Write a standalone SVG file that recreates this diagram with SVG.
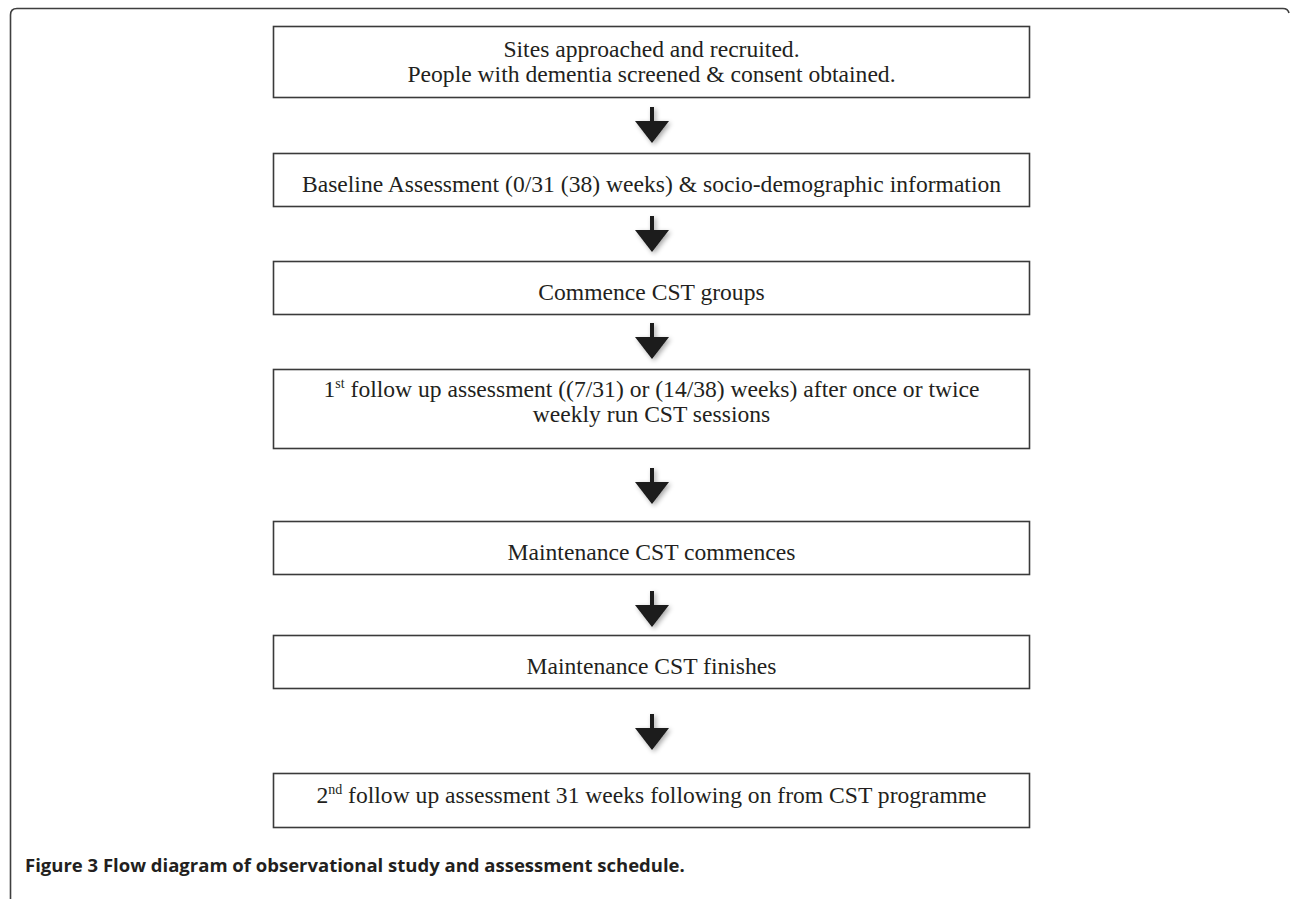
<svg xmlns="http://www.w3.org/2000/svg" width="1290" height="899" viewBox="0 0 1290 899">
<style>
.box{fill:#fff;stroke:#3a3a3a;stroke-width:1.6}
.t{font-family:"Liberation Serif","Times New Roman",serif;font-size:23.6px;fill:#231f20;text-anchor:middle}
.sup{font-size:14px}
.arrow{fill:#1a1a1a}
.cap{font-family:"Open Sans","Noto Sans",sans-serif;font-size:18.5px;font-weight:bold;fill:#231f20}
</style>
<defs>
<filter id="sh" x="-50%" y="-50%" width="200%" height="200%">
<feGaussianBlur in="SourceAlpha" stdDeviation="2.5"/>
<feOffset dx="2" dy="2" result="b"/>
<feComponentTransfer><feFuncA type="linear" slope="0.35"/></feComponentTransfer>
<feMerge><feMergeNode/><feMergeNode in="SourceGraphic"/></feMerge>
</filter>
<g id="arr">
<rect x="-2" y="0" width="4" height="15" class="arrow"/>
<polygon points="-17,14 17,14 0,36" class="arrow"/>
</g>
</defs>
<rect width="1290" height="899" fill="#fff"/>
<path d="M10.5,899 V15 Q10.5,8.5 17,8.5 H1283 Q1288,8.5 1289,13" fill="none" stroke="#3f3f3f" stroke-width="1.6"/>

<g id="connectors" filter="url(#sh)">
<use href="#arr" x="652" y="107"/>
<use href="#arr" x="652" y="216"/>
<use href="#arr" x="652" y="323"/>
<use href="#arr" x="652" y="468"/>
<use href="#arr" x="652" y="591"/>
<use href="#arr" x="652" y="714"/>
</g>

<g id="n1">
<rect class="box" x="273.5" y="26.5" width="756" height="71"/>
<text class="t" x="651.5" y="57">Sites approached and recruited.</text>
<text class="t" x="651.5" y="82">People with dementia screened &amp; consent obtained.</text>
</g>
<g id="n2">
<rect class="box" x="273.5" y="153.5" width="756" height="53"/>
<text class="t" x="651.5" y="192">Baseline Assessment (0/31 (38) weeks) &amp; socio-demographic information</text>
</g>
<g id="n3">
<rect class="box" x="273.5" y="261.5" width="756" height="53"/>
<text class="t" x="651.5" y="300">Commence CST groups</text>
</g>
<g id="n4">
<rect class="box" x="273.5" y="369.5" width="756" height="79"/>
<text class="t" x="651.5" y="397">1<tspan class="sup" dy="-9">st</tspan><tspan dy="9"> follow up assessment ((7/31) or (14/38) weeks) after once or twice</tspan></text>
<text class="t" x="651.5" y="422">weekly run CST sessions</text>
</g>
<g id="n5">
<rect class="box" x="273.5" y="521.5" width="756" height="53"/>
<text class="t" x="651.5" y="560">Maintenance CST commences</text>
</g>
<g id="n6">
<rect class="box" x="273.5" y="635.5" width="756" height="53"/>
<text class="t" x="651.5" y="674">Maintenance CST finishes</text>
</g>
<g id="n7">
<rect class="box" x="273.5" y="773.5" width="756" height="54"/>
<text class="t" x="651.5" y="803">2<tspan class="sup" dy="-9">nd</tspan><tspan dy="9"> follow up assessment 31 weeks following on from CST programme</tspan></text>
</g>

<text class="cap" x="25" y="872">Figure 3 Flow diagram of observational study and assessment schedule.</text>
</svg>
